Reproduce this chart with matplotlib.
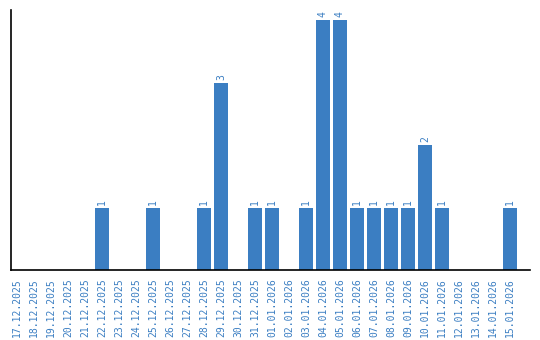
import matplotlib
matplotlib.use("Agg")
import matplotlib.pyplot as plt

# Datos: conteo diario
fechas = ["17.12.2025", "18.12.2025", "19.12.2025", "20.12.2025", "21.12.2025",
          "22.12.2025", "23.12.2025", "24.12.2025", "25.12.2025", "26.12.2025",
          "27.12.2025", "28.12.2025", "29.12.2025", "30.12.2025", "31.12.2025",
          "01.01.2026", "02.01.2026", "03.01.2026", "04.01.2026", "05.01.2026",
          "06.01.2026", "07.01.2026", "08.01.2026", "09.01.2026", "10.01.2026",
          "11.01.2026", "12.01.2026", "13.01.2026", "14.01.2026", "15.01.2026"]
valores = [0, 0, 0, 0, 0, 1, 0, 0, 1, 0, 0, 1, 3, 0, 1,
           1, 0, 1, 4, 4, 1, 1, 1, 1, 2, 1, 0, 0, 0, 1]

azul = "#3b7ec2"

fig = plt.figure(figsize=(5.4, 3.4), dpi=100)
ax = fig.add_axes([11/540, 70/340, 519/540, 260/340])

x = list(range(len(fechas)))
barras = ax.bar(x, valores, width=0.82, color=azul)

# Etiquetas de valor encima de cada barra (solo si > 0)
for xi, v in zip(x, valores):
    if v > 0:
        ax.annotate(str(v), (xi, v), xytext=(0, 2), textcoords="offset points",
                    rotation=90, ha="center", va="bottom", color=azul,
                    fontsize=7, family="DejaVu Sans Mono")

ax.set_xticks(x)
ax.set_xticklabels(fechas, rotation=90, color=azul, fontsize=7,
                   family="DejaVu Sans Mono")
ax.tick_params(axis="x", length=0, pad=6)
ax.set_yticks([])
ax.set_xlim(-0.35, len(fechas) - 1 + 1.18)
ax.set_ylim(0, 4.16)
for s in ["top", "right"]:
    ax.spines[s].set_visible(False)
ax.spines["left"].set_linewidth(1.2)
ax.spines["bottom"].set_linewidth(1.2)

fig.savefig("out.png", dpi=100)
